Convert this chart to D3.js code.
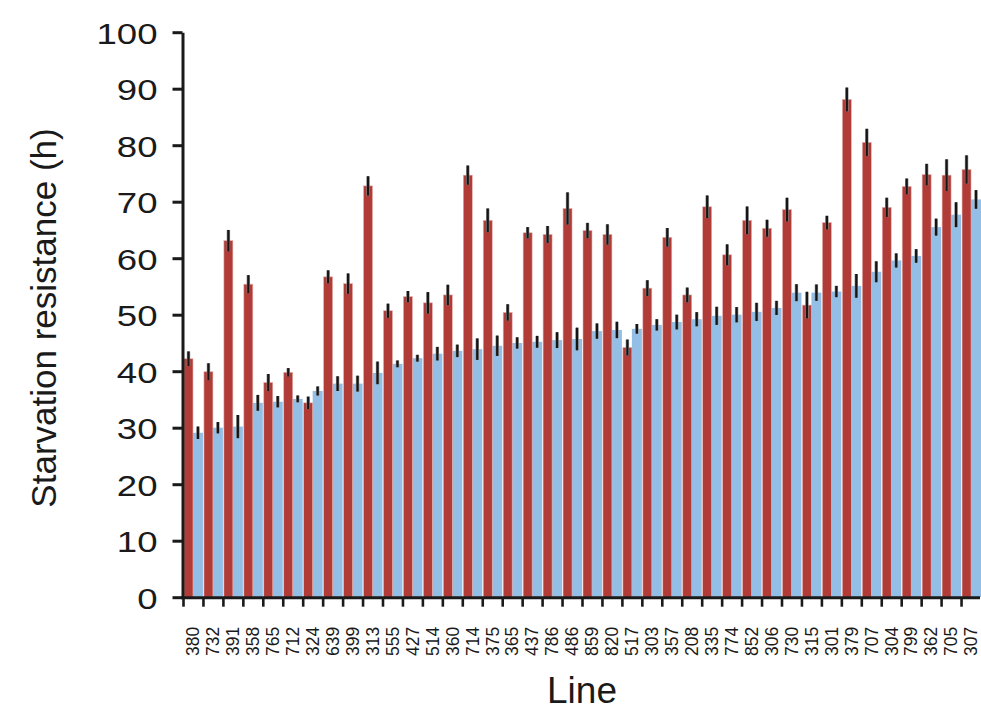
<!DOCTYPE html>
<html>
<head>
<meta charset="utf-8">
<script src="https://cdn.jsdelivr.net/npm/d3@7/dist/d3.min.js"></script>
<style>
  html, body { margin: 0; padding: 0; background: #fff; }
  svg { display: block; }
  text { font-family: "Liberation Sans", Arial, Helvetica, sans-serif; fill: #1a1a1a; }
</style>
</head>
<body>
<svg id="chart" width="981" height="710"></svg>
<script>
// Lines, ordered by the blue series
const lines = ["380","732","391","358","765","712","324","639","399","313",
               "555","427","514","360","714","375","365","437","786","486",
               "859","820","517","303","357","208","335","774","852","306",
               "730","315","301","379","707","304","799","362","705","307"];

// Red series: mean starvation resistance (h) and error
const redMean = [42.2,39.9,63.1,55.4,38.0,39.8,34.4,56.7,55.5,72.8,
                 50.7,53.2,52.1,53.5,74.7,66.7,50.4,64.5,64.2,68.8,
                 64.9,64.2,44.2,54.7,63.7,53.5,69.1,60.6,66.7,65.3,
                 68.6,51.7,66.3,88.1,80.5,69.0,72.7,74.8,74.7,75.7];
const redErr  = [1.3,1.5,1.9,1.6,1.5,0.75,1.1,1.15,1.8,1.7,
                 1.25,1.0,1.9,1.8,1.7,2.1,1.45,1.0,1.5,2.85,
                 1.35,1.8,1.4,1.4,1.65,1.3,2.0,1.85,2.45,1.5,
                 2.1,2.35,1.2,2.1,2.4,1.7,1.4,1.9,2.8,2.5];

// Blue series: mean starvation resistance (h) and error
const blueMean = [29.1,30.0,30.2,34.4,34.6,35.1,36.5,37.8,37.8,39.7,
                  41.3,42.3,43.1,43.6,43.9,44.5,45.0,45.2,45.5,45.7,
                  47.1,47.3,47.5,48.2,48.7,49.2,49.8,50.0,50.5,51.2,
                  53.9,53.9,54.1,55.1,57.6,59.6,60.4,65.5,67.7,70.4];
const blueErr  = [1.1,1.0,2.05,1.4,1.0,0.6,0.8,1.3,1.4,2.0,
                  0.6,0.6,1.2,1.1,1.9,1.8,1.0,1.05,1.4,2.0,
                  1.35,1.45,0.85,1.0,1.3,1.25,1.6,1.35,1.6,1.25,
                  1.5,1.45,1.0,2.1,1.85,1.25,1.2,1.5,2.2,1.65];

const yTicks = [0,10,20,30,40,50,60,70,80,90,100];

const RED = "#b03b37", BLUE = "#93bee6";

const svg = d3.select("#chart");
const plotLeft = 183, plotRight = 981, plotTop = 32.2, plotBottom = 597.2;

const x = d3.scaleBand().domain(lines).range([plotLeft, plotRight]).padding(0);
const y = d3.scaleLinear().domain([0, 100]).range([plotBottom, plotTop]);
const bw = x.bandwidth();

const rows = lines.map((l, i) => ({
  line: l, r: redMean[i], re: redErr[i], b: blueMean[i], be: blueErr[i]
}));

// Bars: red on the left half of each group, blue on the right half
const g = svg.append("g");
g.selectAll("rect.blue").data(rows).join("rect")
  .attr("class", "blue")
  .attr("x", d => x(d.line) + bw / 2)
  .attr("width", bw / 2)
  .attr("y", d => y(d.b))
  .attr("height", d => y(0) - y(d.b))
  .attr("fill", BLUE);

g.selectAll("rect.red").data(rows).join("rect")
  .attr("class", "red")
  .attr("x", d => x(d.line) + 1)
  .attr("width", bw / 2 - 1)
  .attr("y", d => y(d.r))
  .attr("height", d => y(0) - y(d.r))
  .attr("fill", RED)
  .attr("stroke", "#e6b0ad")
  .attr("stroke-width", 0.6);

// Error bars (dark core with a soft grey edge)
function errorBars(cls, cx, lo, hi, width, colour) {
  return svg.append("g").attr("stroke", colour).attr("stroke-width", width)
    .selectAll("line." + cls).data(rows).join("line")
    .attr("class", cls)
    .attr("x1", cx).attr("x2", cx)
    .attr("y1", d => y(lo(d))).attr("y2", d => y(hi(d)));
}
const redX = d => x(d.line) + bw / 4 + 0.5;
const blueX = d => x(d.line) + bw * 0.75;
errorBars("re-halo", redX, d => d.r - d.re, d => d.r + d.re, 3.4, "#8a8a8a");
errorBars("be-halo", blueX, d => d.b - d.be, d => d.b + d.be, 3.4, "#8a8a8a");
errorBars("re", redX, d => d.r - d.re, d => d.r + d.re, 2.2, "#151515");
errorBars("be", blueX, d => d.b - d.be, d => d.b + d.be, 2.2, "#151515");

// Y axis
const yAxis = svg.append("g")
  .attr("transform", `translate(${plotLeft - 0.5},0)`)
  .call(d3.axisLeft(y).tickValues(yTicks).tickSize(10).tickSizeOuter(0).tickPadding(0));
yAxis.select(".domain").attr("stroke", "#1a1a1a").attr("stroke-width", 3);
yAxis.selectAll(".tick line").attr("stroke", "#1a1a1a").attr("stroke-width", 3);
yAxis.selectAll(".tick text")
  .attr("x", null)
  .attr("dy", "0.36em")
  .attr("transform", "translate(-25,0) scale(1.22,1)")
  .style("font-size", "30px")
  .style("font-family", "'Liberation Sans', Arial, sans-serif")
  .attr("fill", "#1a1a1a");

// X axis: ticks on group boundaries, labels centred in groups
const xAxisG = svg.append("g").attr("transform", `translate(0,${plotBottom + 0.5})`);
xAxisG.append("line")
  .attr("x1", plotLeft - 2).attr("x2", plotRight - 1)
  .attr("stroke", "#1a1a1a").attr("stroke-width", 3);
xAxisG.selectAll("line.tk").data(lines).join("line")
  .attr("class", "tk")
  .attr("x1", d => x(d) + 0.5).attr("x2", d => x(d) + 0.5)
  .attr("y1", 0).attr("y2", 9)
  .attr("stroke", "#1a1a1a").attr("stroke-width", 2.6);
xAxisG.selectAll("text").data(lines).join("text")
  .attr("transform", d => `translate(${x(d) + bw / 2},29) rotate(-90)`)
  .attr("text-anchor", "end")
  .attr("dy", "0.36em")
  .style("font-size", "17.5px")
  .text(d => d);

// Axis titles
svg.append("text")
  .attr("x", 582).attr("y", 703)
  .attr("text-anchor", "middle")
  .style("font-size", "37px")
  .text("Line");

svg.append("text")
  .attr("transform", "translate(56,318) rotate(-90)")
  .attr("text-anchor", "middle")
  .style("font-size", "35px")
  .text("Starvation resistance (h)");
</script>
</body>
</html>
